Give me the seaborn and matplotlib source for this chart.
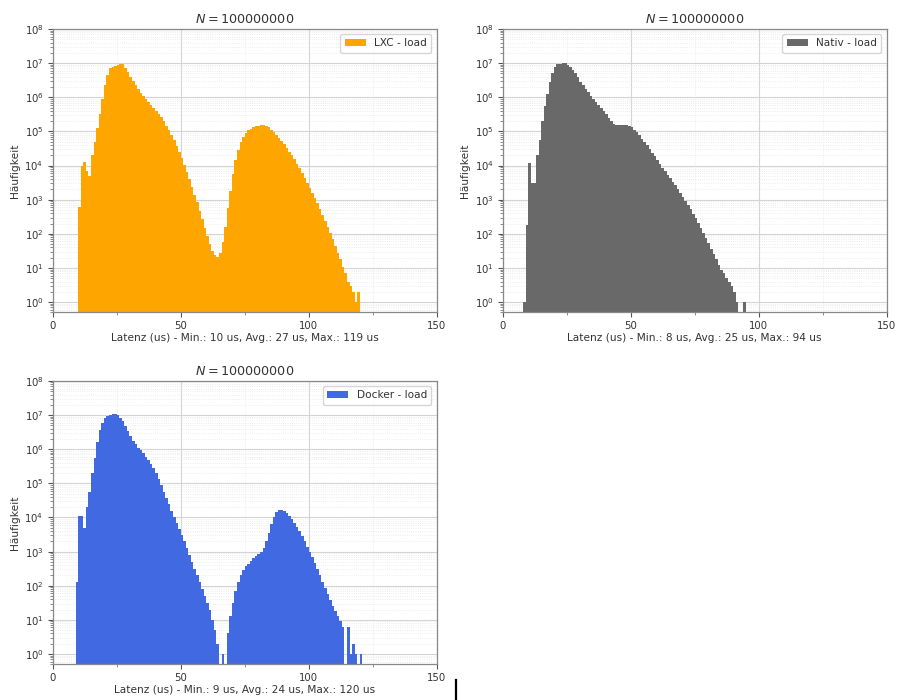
import numpy as np
import pandas as pd
import matplotlib
matplotlib.use("Agg")
import matplotlib.pyplot as plt
import seaborn as sns
from matplotlib.patches import Patch
from matplotlib.lines import Line2D
from matplotlib.ticker import MultipleLocator, LogLocator, NullFormatter

# ---------------- data (1 us bins, counts per bin) ----------------
lxc_first_us = 10
lxc_counts = [
    620, 10000, 12600, 7100, 5000, 20000, 50000, 126000, 316000, 891000,          # 10-19
    2240000, 4470000, 7080000, 7940000, 8320000, 8910000, 9550000, 9120000, 7410000, 5500000,  # 20-29
    3980000, 3020000, 2290000, 1740000, 1350000, 1070000, 871000, 724000, 603000, 501000,      # 30-39
    407000, 331000, 263000, 200000, 148000, 107000, 77600, 55000, 38000, 25700,  # 40-49
    17000, 10700, 6600, 4000, 2400, 1410, 830, 480, 270, 151,                    # 50-59
    85, 50, 32, 24, 21, 28, 56, 158, 560, 1780,                                  # 60-69
    5600, 14100, 28200, 47900, 70800, 89100, 107000, 120000, 132000, 141000,     # 70-79
    148000, 155000, 155000, 148000, 132000, 112000, 93300, 77600, 63100, 51300,  # 80-89
    41700, 33100, 25700, 20000, 15100, 11200, 8300, 6000, 4400, 3160,            # 90-99
    2240, 1580, 1120, 790, 540, 360, 240, 158, 105, 69,                          # 100-109
    45, 28, 18, 11, 7, 4, 3, 2, 1, 2,                                            # 110-119
]

nativ_first_us = 8
nativ_counts = [
    1, 180,                                                                      # 8-9
    11700, 3000, 3000, 20000, 56000, 200000, 562000, 1260000, 2820000, 5250000,  # 10-19
    7940000, 9120000, 9550000, 10000000, 10000000, 8910000, 7590000, 6310000, 5010000, 3800000,  # 20-29
    2880000, 2240000, 1780000, 1410000, 1120000, 912000, 741000, 603000, 490000, 398000,         # 30-39
    316000, 251000, 200000, 166000, 155000, 155000, 155000, 155000, 155000, 148000,              # 40-49
    132000, 112000, 93300, 75900, 61700, 49000, 38900, 30900, 24000, 18600,      # 50-59
    14500, 11200, 8700, 6900, 5400, 4300, 3400, 2630, 2040, 1580,                # 60-69
    1200, 910, 690, 520, 390, 290, 210, 150, 107, 74,                            # 70-79
    52, 37, 26, 18, 12, 9, 7, 5, 4, 3,                                           # 80-89
    2, 1, 0, 0, 1,                                                               # 90-94
]

docker_first_us = 9
docker_counts = [
    130,                                                                         # 9
    11000, 11000, 4800, 20000, 56000, 200000, 562000, 1580000, 3550000, 6030000,  # 10-19
    7940000, 9330000, 10200000, 10700000, 11000000, 10000000, 8320000, 6610000, 4790000, 3390000,  # 20-29
    2400000, 1780000, 1380000, 1120000, 933000, 759000, 603000, 479000, 372000, 282000,            # 30-39
    200000, 135000, 89100, 57500, 37200, 24000, 15800, 10500, 6900, 4600,        # 40-49
    3000, 2000, 1260, 790, 500, 316, 200, 126, 79, 50,                           # 50-59
    32, 20, 10, 5, 2, 0, 1, 0, 4, 13,                                            # 60-69
    32, 71, 126, 200, 282, 372, 447, 537, 631, 741,                              # 70-79
    851, 1000, 1260, 2000, 3550, 6310, 10500, 14100, 16600, 16600,               # 80-89
    15100, 13200, 11000, 8900, 7100, 5400, 4000, 2900, 2040, 1410,               # 90-99
    1000, 680, 460, 300, 200, 132, 87, 58, 38, 25,                               # 100-109
    18, 13, 9, 6, 0, 6, 1, 2, 1, 0,                                              # 110-119
    1,                                                                           # 120
]

series_labels = ["LXC - load", "Nativ - load", "Docker - load"]
min_us = [10, 8, 9]
avg_us = [27, 25, 24]
max_us = [119, 94, 120]
n_samples = 100000000
colors = ["orange", "dimgray", "royalblue"]
x_ticks = [0, 50, 100, 150]

# ---------------- figure ----------------
fig = plt.figure(figsize=(8.97, 7.0), dpi=100)
axes = fig.subplots(2, 2)
fig.subplots_adjust(left=0.0587, right=0.9885, top=0.9586, bottom=0.051,
                    wspace=0.172, hspace=0.242)
axes[1, 1].remove()

panels = [
    (axes[0, 0], lxc_first_us, lxc_counts),
    (axes[0, 1], nativ_first_us, nativ_counts),
    (axes[1, 0], docker_first_us, docker_counts),
]

text_color = "#333333"
for i, (ax, first, counts) in enumerate(panels):
    df = pd.DataFrame({
        "latency": np.arange(first, first + len(counts), dtype=float) + 0.5,
        "count": np.asarray(counts, dtype=float),
    })
    ax.set_yscale("log")
    sns.histplot(data=df, x="latency", weights="count", binwidth=1,
                 binrange=(first, first + len(counts)),
                 element="step", fill=True, color=colors[i], alpha=1.0,
                 linewidth=0, ax=ax)
    ax.set_xlim(0, 150)
    ax.set_ylim(0.5, 1e8)
    ax.set_xticks(x_ticks)
    ax.xaxis.set_minor_locator(MultipleLocator(25))
    ax.yaxis.set_major_locator(LogLocator(base=10, numticks=20))
    ax.yaxis.set_minor_locator(LogLocator(base=10, subs=np.arange(2, 10), numticks=100))
    ax.yaxis.set_minor_formatter(NullFormatter())
    ax.set_axisbelow(True)
    ax.grid(which="major", color="#d4d4d4", linewidth=0.8)
    ax.grid(which="minor", color="#e8e8e8", linewidth=0.6, linestyle=":")
    ax.tick_params(axis="both", which="major", labelsize=7.3, colors="#555555",
                   labelcolor=text_color, length=3.5, pad=3)
    ax.tick_params(axis="both", which="minor", colors="#777777", length=2)
    for sp in ax.spines.values():
        sp.set_color("#888888")
        sp.set_linewidth(0.9)
    ax.set_title(r"$N = %d$" % n_samples, fontsize=9.2, color=text_color, pad=4)
    ax.set_xlabel("Latenz (us) - Min.: %d us, Avg.: %d us, Max.: %d us"
                  % (min_us[i], avg_us[i], max_us[i]), fontsize=7.6, color=text_color,
                  labelpad=1.2)
    ax.set_ylabel("Häufigkeit", fontsize=7.7, color=text_color, labelpad=3)
    ax.legend(handles=[Patch(facecolor=colors[i], label=series_labels[i])],
              loc="upper right", fontsize=7.6, labelcolor=text_color)

# small stray vertical mark at the bottom of the reference image
fig.add_artist(Line2D([456 / 897, 456 / 897], [0.0, 20 / 700], color="black", linewidth=1.6))

fig.savefig("out.png", dpi=100)
